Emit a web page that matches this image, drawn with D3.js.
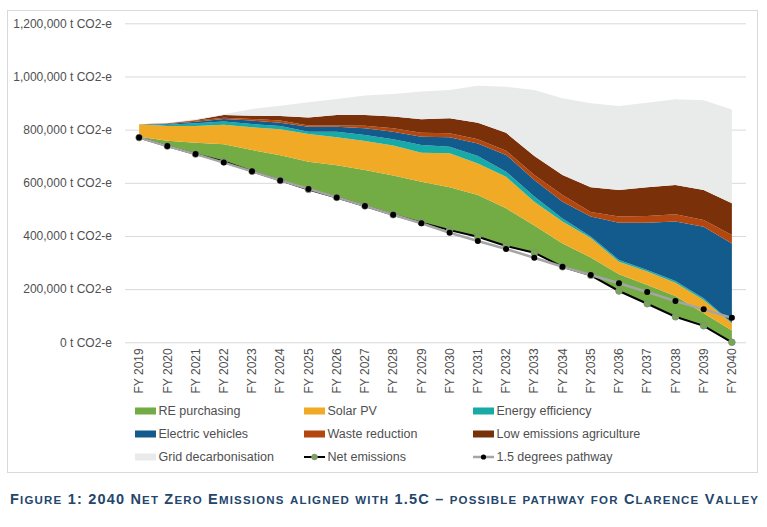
<!DOCTYPE html>
<html><head><meta charset="utf-8">
<script src="https://cdn.jsdelivr.net/npm/d3@7"></script>
<style>
html,body{margin:0;padding:0;background:#fff;}
svg{display:block;font-family:"Liberation Sans",Arial,sans-serif;}
</style></head>
<body><svg id="chart" width="767" height="527"></svg>
<script>
// ---- data (t CO2-e) ----
const years = ["FY 2019","FY 2020","FY 2021","FY 2022","FY 2023","FY 2024","FY 2025","FY 2026","FY 2027","FY 2028","FY 2029","FY 2030","FY 2031","FY 2032","FY 2033","FY 2034","FY 2035","FY 2036","FY 2037","FY 2038","FY 2039","FY 2040"];
const netEmissions = [770000,738000,708000,680000,643000,609000,575000,545000,513000,480000,450000,422000,397000,362000,337000,284000,252000,193000,145000,96000,62000,0];
const rePurchasing = [3000,20000,43000,65000,80000,95000,104000,121000,135000,147000,154000,161000,157000,142000,102000,88000,67000,63000,71000,78000,47000,44000];
const solarPV = [47000,56000,63000,73000,86000,97000,105000,105000,109000,113000,109000,128000,119000,119000,90000,82000,73000,47000,50000,50000,50000,28000];
const energyEfficiency = [0,4000,10000,13000,12000,13000,8000,21000,23000,24000,29000,25000,28000,19000,19000,12000,6000,7000,6000,7000,7000,2000];
const electricVehicles = [0,3000,6000,9000,13000,12000,19000,19000,25000,28000,31000,35000,47000,63000,63000,63000,75000,140000,178000,223000,269000,298000];
const wasteReduction = [0,1000,4000,5000,6000,8000,5000,5000,10000,13000,15000,15000,16000,16000,18000,25000,17000,23000,25000,28000,25000,32000];
const lowEmissionsAgriculture = [0,2000,2000,10000,12000,17000,30000,39000,40000,44000,51000,57000,62000,67000,72000,75000,93000,100000,108000,110000,113000,119000];
const gridDecarbonisation = [0,2000,4000,3000,26000,39000,57000,60000,73000,85000,104000,106000,139000,173000,248000,289000,316000,316000,318000,322000,338000,353000];
const pathway15 = [770000,738000,708000,676000,643000,609000,577000,545000,513000,480000,448000,412000,381000,351000,318000,284000,253000,222000,189000,155000,124000,92000];
const yTicks = [0,200000,400000,600000,800000,1000000,1200000];

const seriesKeys = ["re","solar","ee","ev","waste","agri","grid"];
const seriesNames = ["RE purchasing","Solar PV","Energy efficiency","Electric vehicles","Waste reduction","Low emissions agriculture","Grid decarbonisation"];
const seriesColors = ["#73ab44","#f1aa26","#17aaa7","#135b8d","#b4470f","#7a310a","#e9eaea"];
const captionText = "Figure 1: 2040 Net Zero Emissions aligned with 1.5C \u2013 possible pathway for Clarence Valley";

// ---- build ----
const svg = d3.select("#chart");
svg.append("rect").attr("x",7.5).attr("y",10.5).attr("width",750).attr("height",462)
  .attr("fill","#fff").attr("stroke","#d9d9d9");

const x = d3.scaleBand().domain(years).range([125,746]);
const y = d3.scaleLinear().domain([0,1200000]).range([342.3,23.3]);
const cx = d => x(d) + x.bandwidth()/2;

// y axis + gridlines
const yAxis = svg.append("g").attr("transform","translate(125,0)")
  .call(d3.axisLeft(y).tickValues(yTicks).tickSize(-621).tickPadding(13)
    .tickFormat(d => d3.format(",")(d) + " t CO2-e"));
yAxis.select(".domain").remove();
yAxis.selectAll(".tick line").attr("stroke","#d9d9d9").attr("stroke-width",1);
yAxis.selectAll(".tick text").attr("fill","#4f4f4f").style("font-size","12px")
  .style("font-family","'Liberation Sans',Arial,sans-serif");

// x axis
const xAxis = svg.append("g").attr("transform","translate(0,342.3)")
  .call(d3.axisBottom(x).tickSize(0).tickPadding(0));
xAxis.select(".domain").remove();
xAxis.selectAll(".tick text").attr("fill","#4f4f4f").style("font-size","12px")
  .style("font-family","'Liberation Sans',Arial,sans-serif")
  .attr("transform","rotate(-90)").attr("text-anchor","end")
  .attr("x",-6).attr("y",0).attr("dy","0.35em");

// stacked areas
const rows = years.map((yr,i) => ({
  year: yr, net: netEmissions[i], re: rePurchasing[i], solar: solarPV[i], ee: energyEfficiency[i],
  ev: electricVehicles[i], waste: wasteReduction[i], agri: lowEmissionsAgriculture[i], grid: gridDecarbonisation[i]
}));
const stack = d3.stack().keys(["net"].concat(seriesKeys))(rows);
const area = d3.area().x(d => cx(d.data.year)).y0(d => y(d[0])).y1(d => y(d[1]));
svg.append("g").selectAll("path").data(stack.slice(1)).join("path")
  .attr("d", area).attr("fill", (d,i) => seriesColors[i]);

// net emissions line
const line = d3.line().x((d,i) => cx(years[i])).y(d => y(d));
svg.append("path").attr("d", line(netEmissions)).attr("fill","none").attr("stroke","#000").attr("stroke-width",2);
svg.append("g").selectAll("circle").data(netEmissions).join("circle")
  .attr("cx",(d,i)=>cx(years[i])).attr("cy",d=>y(d)).attr("r",3.3)
  .attr("fill","#70ad47").attr("stroke","#8a8a8a").attr("stroke-width",1);

// 1.5 degrees pathway
svg.append("path").attr("d", line(pathway15)).attr("fill","none").attr("stroke","#a5a5a5").attr("stroke-width",2.5);
svg.append("g").selectAll("circle").data(pathway15).join("circle")
  .attr("cx",(d,i)=>cx(years[i])).attr("cy",d=>y(d)).attr("r",3)
  .attr("fill","#000");

// legend
const legendItems = seriesNames.map((n,i)=>({name:n, type:"area", color:seriesColors[i]}))
  .concat([{name:"Net emissions", type:"net"},{name:"1.5 degrees pathway", type:"path"}]);
const colX = [135,304,473], rowY = [411,434,457];
const lg = svg.append("g");
legendItems.forEach((it,i) => {
  const gx = colX[i%3], gy = rowY[Math.floor(i/3)];
  const g = lg.append("g").attr("transform",`translate(${gx},${gy})`);
  if (it.type === "area") {
    g.append("rect").attr("x",0).attr("y",-3.5).attr("width",21).attr("height",7).attr("fill",it.color);
  } else if (it.type === "net") {
    g.append("line").attr("x1",0).attr("x2",21).attr("y1",0).attr("y2",0).attr("stroke","#000").attr("stroke-width",2);
    g.append("circle").attr("cx",10.5).attr("cy",0).attr("r",2.8).attr("fill","#70ad47").attr("stroke","#8a8a8a");
  } else {
    g.append("line").attr("x1",0).attr("x2",21).attr("y1",0).attr("y2",0).attr("stroke","#a5a5a5").attr("stroke-width",2.5);
    g.append("circle").attr("cx",10.5).attr("cy",0).attr("r",2.6).attr("fill","#000");
  }
  g.append("text").attr("x",23.5).attr("y",0).attr("dy","0.35em").attr("fill","#4f4f4f")
    .style("font-size","12.5px").text(it.name);
});

// caption (small caps)
const cap = svg.append("text").attr("x",10).attr("y",504).attr("fill","#24466b")
  .style("font-weight","bold").attr("textLength",748).attr("lengthAdjust","spacing");
const runs = captionText.match(/[a-z]+|[^a-z]+/g);
runs.forEach(r => {
  const lower = /^[a-z]+$/.test(r);
  cap.append("tspan").style("font-size", lower ? "11.5px" : "14.5px").text(r.toUpperCase());
});
</script>
</body></html>
